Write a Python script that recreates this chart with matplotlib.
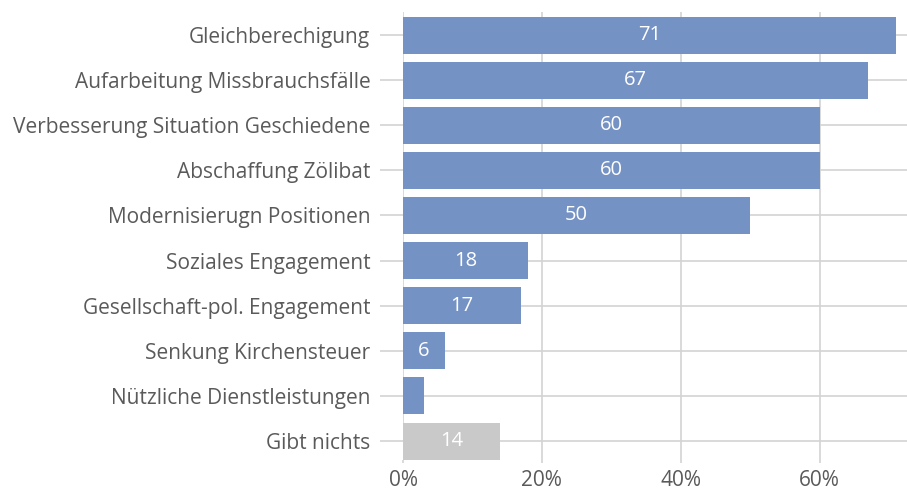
import matplotlib
matplotlib.use("Agg")
import matplotlib.pyplot as plt

# data
categories = ["Gleichberechigung", "Aufarbeitung Missbrauchsfälle",
              "Verbesserung Situation Geschiedene", "Abschaffung Zölibat",
              "Modernisierugn Positionen", "Soziales Engagement",
              "Gesellschaft-pol. Engagement", "Senkung Kirchensteuer",
              "Nützliche Dienstleistungen", "Gibt nichts"]
values = [71, 67, 60, 60, 50, 18, 17, 6, 3, 14]
labels = ["71", "67", "60", "60", "50", "18", "17", "6", "", "14"]
xticks = [0, 20, 40, 60]

blue = "#7592c4"
grey = "#c9c9c9"
colors = [blue] * 9 + [grey]

plt.rcParams['font.family'] = ['Open Sans', 'DejaVu Sans']

fig = plt.figure(figsize=(9.07, 4.93), dpi=100)
ax = fig.add_axes([403 / 907, 1 - 460 / 493, 504 / 907, 448 / 493])

ypos = list(range(len(categories)))
bars = ax.barh(ypos, values, height=0.82, color=colors, zorder=3)

for b, lab in zip(bars, labels):
    if lab:
        ax.text(b.get_width() / 2, b.get_y() + b.get_height() / 2, lab,
                ha="center", va="center", color="white", fontsize=14.5, zorder=4)

ax.set_yticks(ypos)
ax.set_yticklabels(categories)
ax.set_xticks(xticks)
ax.set_xticklabels([f"{t}%" for t in xticks])
ax.set_xlim(0, 72.6)
ax.set_ylim(9.42, -0.51)

ax.grid(True, color="#d3d3d3", linewidth=1.2, zorder=0)
for s in ax.spines.values():
    s.set_visible(False)

ax.tick_params(axis="y", length=16.5, width=1.2, color="#d3d3d3", pad=7,
               labelsize=15, labelcolor="#5a5a5a")
ax.tick_params(axis="x", length=2.5, width=1.2, color="#d3d3d3", pad=5,
               labelsize=15, labelcolor="#5a5a5a")

fig.savefig("out.png", dpi=100)
